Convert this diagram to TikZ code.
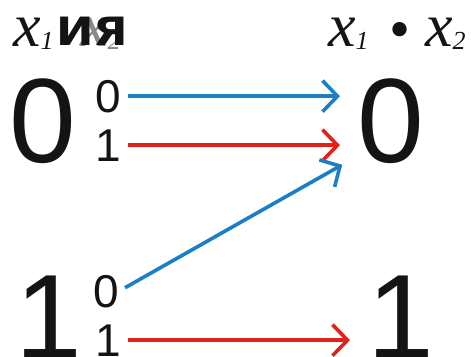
\documentclass[tikz,border=0pt]{standalone}
\usepackage{fontspec}
\setmainfont{Liberation Serif}
\setsansfont{Liberation Sans}
\newfontfamily\lgCyr{DejaVu Sans}
\usetikzlibrary{arrows.meta}
\definecolor{lgBlue}{HTML}{1A7FC6}
\definecolor{lgRed}{HTML}{E0221B}
\definecolor{lgInk}{HTML}{141414}
\newcommand{\LGBig}{\sffamily\fontsize{120}{120}\selectfont}
\newcommand{\LGBit}{\sffamily\fontsize{46}{46}\selectfont}
\newcommand{\LGVar}{\itshape\fontsize{62}{62}\selectfont}
\newcommand{\LGSub}[1]{\raisebox{-3pt}{\fontsize{26}{26}\selectfont #1}}
\tikzset{lg/base/.style={x=1pt,y=1pt,line join=miter,
  every node/.style={inner sep=0pt,text=lgInk}},
  lg/big/.style={font=\LGBig,anchor=base west},
  lg/bit/.style={font=\LGBit,anchor=base west},
  lg/var/.style={font=\LGVar,anchor=base west},
  lg/arrow/.style={-{Straight Barb[length=15pt,width=31pt]},line width=3.6pt,
    shorten <=7pt,shorten >=17pt}}
\begin{document}
\begin{tikzpicture}[lg/base,y=-1pt]
  \useasboundingbox (0,0) rectangle (471,356);
  % headings
  \node[lg/var] (headIn) at (13,46) {x\LGSub{1}};
  \node[lg/var,text=lgInk!50] (headInTwo) at (80,46) {x\LGSub{2}};
  \node[font=\lgCyr\bfseries\fontsize{39}{39}\selectfont,anchor=base west,xscale=1.15] (andWord) at (56,45) {ИЯ};
  \node[lg/var] (headOut) at (328,46) {x\LGSub{1}};
  \node[font=\fontsize{60}{60}\selectfont,anchor=base] (dotOp) at (400,49) {•};
  \node[lg/var] (headOutTwo) at (425,46) {x\LGSub{2}};
  % inputs
  \node[lg/big] (inZero) at (9,162) {0};
  \node[lg/big] (inOne) at (15,358) {1};
  \node[lg/bit] (bitZeroA) at (95,112) {0};
  \node[lg/bit] (bitOneA) at (95,161) {1};
  \node[lg/bit] (bitZeroB) at (93,307) {0};
  \node[lg/bit] (bitOneB) at (95,356) {1};
  % outputs
  \node[lg/big] (outZero) at (357,162) {0};
  \node[lg/big] (outOne) at (367,358) {1};
  % mapping
  \draw[lg/arrow,draw=lgBlue] (bitZeroA.east) -- (bitZeroA.east -| outZero.west);
  \draw[lg/arrow,draw=lgRed] (bitOneA.east) -- (bitOneA.east -| outZero.west);
  \draw[lg/arrow,draw=lgBlue] (bitZeroB.east) -- ([yshift=7pt]outZero.south west);
  \draw[lg/arrow,draw=lgRed] (bitOneB.east) -- (bitOneB.east -| outOne.west);
\end{tikzpicture}
\end{document}
